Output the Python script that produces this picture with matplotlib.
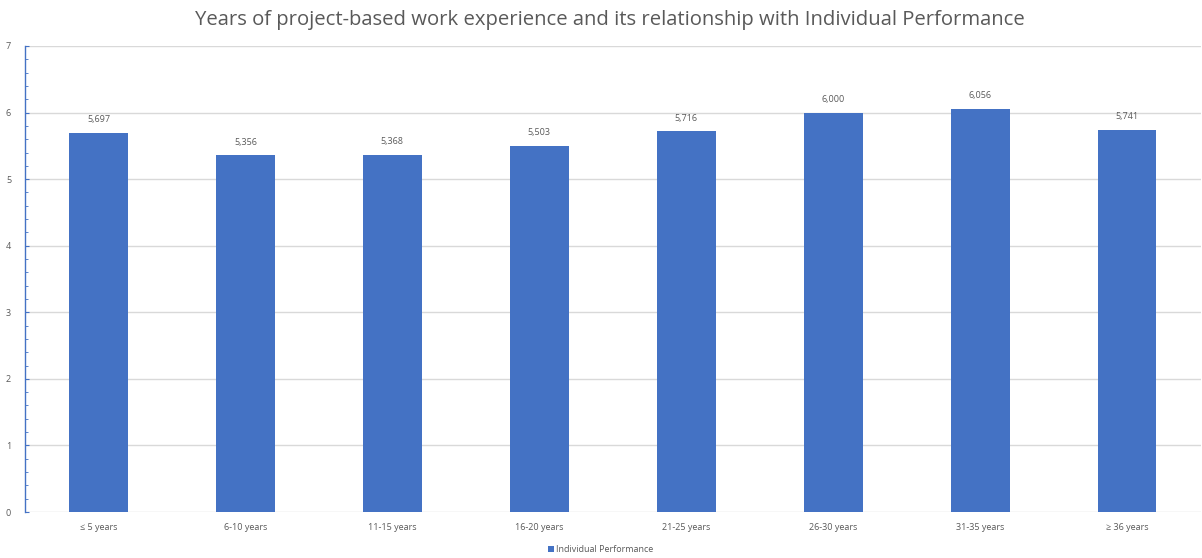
import matplotlib.pyplot as plt
import numpy as np
from matplotlib.ticker import MultipleLocator

categories = ["≤ 5 years", "6-10 years", "11-15 years", "16-20 years",
              "21-25 years", "26-30 years", "31-35 years", "≥ 36 years"]
performance = [5.697, 5.356, 5.368, 5.503, 5.716, 6.000, 6.056, 5.741]
series_name = "Individual Performance"

BLUE = "#4472C4"
TEXT = "#595959"

plt.rcParams["font.family"] = ["Open Sans", "DejaVu Sans"]

fig = plt.figure(figsize=(12.02, 5.58), dpi=100)
ax = fig.add_axes([0.0208, 0.0824, 0.978, 0.8352])

x = np.arange(len(categories))
bars = ax.bar(x, performance, width=0.4, color=BLUE, zorder=3)

# value labels use a decimal comma
for rect, v in zip(bars, performance):
    ax.annotate(f"{v:.3f}".replace(".", ","),
                (rect.get_x() + rect.get_width() / 2, v),
                xytext=(0, 6), textcoords="offset points",
                ha="center", va="bottom", fontsize=6.5, color=TEXT)

ax.set_xlim(-0.5, len(categories) - 0.5)
ax.set_ylim(0, 7)
ax.yaxis.set_major_locator(MultipleLocator(1))
ax.yaxis.set_minor_locator(MultipleLocator(0.2))
ax.grid(axis="y", which="major", color="#D9D9D9", linewidth=1, zorder=0)

ax.set_xticks(x)
ax.set_xticklabels(categories)
ax.tick_params(axis="x", length=0, labelsize=6.5, labelcolor=TEXT, pad=8)
ax.tick_params(axis="y", which="major", direction="in", length=3,
               color=BLUE, labelsize=6.5, labelcolor=TEXT, pad=10)
ax.tick_params(axis="y", which="minor", direction="in", length=2, color=BLUE)

for side in ("top", "right", "bottom"):
    ax.spines[side].set_visible(False)
ax.spines["left"].set_color(BLUE)
ax.spines["left"].set_linewidth(1)

fig.text(0.507, 0.965, "Years of project-based work experience and its relationship with Individual Performance",
         ha="center", va="center", fontsize=14.6, color=TEXT)

fig.legend([bars], [series_name], loc="center", bbox_to_anchor=(0.5, 0.015),
           frameon=False, fontsize=6.5, labelcolor=TEXT,
           handlelength=0.6, handleheight=0.6, handletextpad=0.3)

fig.savefig("out.png", dpi=100)
